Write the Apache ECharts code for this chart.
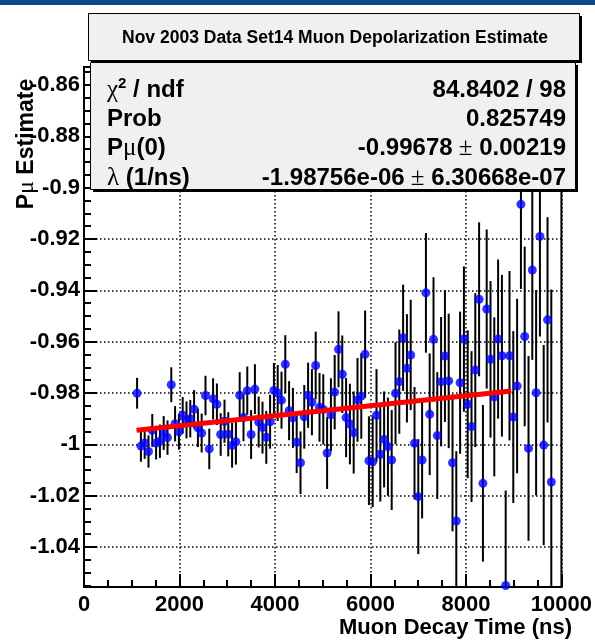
<!DOCTYPE html>
<html>
<head>
<meta charset="utf-8">
<script src="https://cdn.jsdelivr.net/npm/echarts@6/dist/echarts.min.js"></script>
<style>
html,body{margin:0;padding:0;background:#fff;}
#chart{width:595px;height:642px;}
</style>
</head>
<body>
<div id="chart"></div>
<script>
// ---- data ----
var times = [1112,1192,1271,1351,1430,1510,1590,1669,1749,1828,
  1908,1988,2067,2147,2226,2306,2386,2465,2545,2624,
  2704,2784,2863,2943,3022,3102,3182,3261,3341,3420,
  3500,3580,3659,3739,3818,3898,3978,4057,4137,4216,
  4296,4376,4455,4535,4614,4694,4774,4853,4933,5012,
  5092,5172,5251,5331,5410,5490,5570,5649,5729,5808,
  5888,5968,6047,6127,6206,6286,6366,6445,6525,6604,
  6684,6764,6843,6923,7002,7082,7162,7241,7321,7400,
  7480,7560,7639,7719,7798,7878,7958,8037,8117,8196,
  8276,8356,8435,8515,8594,8674,8754,8833,8913,8992,
  9072,9152,9231,9311,9390,9470,9550,9629,9709,9788];
var polarization = [-0.9801,-1.0007,-0.9995,-1.0028,-0.9946,-0.9995,-0.9988,-0.9956,-0.9974,-0.9768,
  -0.9920,-0.9951,-0.9887,-0.9905,-0.9900,-0.9863,-0.9936,-0.9956,-0.9810,-1.0018,
  -0.9823,-0.9844,-0.9962,-0.9910,-0.9961,-1.0004,-0.9990,-0.9809,-0.9896,-0.9791,
  -0.9962,-0.9785,-0.9913,-0.9935,-0.9973,-0.9912,-0.9790,-0.9800,-0.9828,-0.9688,
  -0.9869,-0.9897,-0.9992,-1.0072,-0.9893,-0.9809,-0.9836,-0.9693,-0.9856,-0.9864,
  -1.0034,-0.9885,-0.9797,-0.9630,-0.9727,-0.9896,-0.9921,-0.9954,-0.9827,-0.9812,
  -0.9649,-1.0064,-1.0068,-0.9887,-1.0039,-0.9981,-1.0009,-1.0061,-0.9801,-0.9756,
  -0.9585,-0.9704,-0.9652,-0.9996,-1.0204,-1.0061,-0.9410,-0.9883,-0.9591,-0.9966,
  -0.9756,-0.9656,-0.9753,-1.0072,-1.0299,-0.9760,-0.9590,-0.9844,-0.9931,-0.9711,
  -0.9435,-1.0152,-0.9473,-0.9669,-0.9815,-0.9590,-0.9655,-1.0550,-0.9655,-0.9894,
  -0.9773,-0.9065,-0.9580,-1.0016,-0.9321,-0.9799,-0.9190,-1.0003,-0.9515,-1.0147];
var errors = [0.0060,0.0061,0.0062,0.0063,0.0064,0.0064,0.0065,0.0066,0.0067,0.0068,
  0.0069,0.0070,0.0071,0.0072,0.0073,0.0074,0.0075,0.0076,0.0077,0.0079,
  0.0080,0.0081,0.0083,0.0084,0.0086,0.0087,0.0089,0.0090,0.0092,0.0094,
  0.0095,0.0097,0.0099,0.0101,0.0103,0.0105,0.0107,0.0109,0.0111,0.0113,
  0.0115,0.0117,0.0120,0.0122,0.0124,0.0127,0.0129,0.0132,0.0134,0.0137,
  0.0140,0.0142,0.0145,0.0148,0.0151,0.0154,0.0157,0.0160,0.0163,0.0166,
  0.0170,0.0173,0.0177,0.0180,0.0184,0.0187,0.0191,0.0195,0.0199,0.0203,
  0.0207,0.0211,0.0215,0.0219,0.0224,0.0228,0.0233,0.0237,0.0242,0.0247,
  0.0252,0.0257,0.0262,0.0267,0.0272,0.0277,0.0283,0.0288,0.0294,0.0300,
  0.0300,0.0305,0.0310,0.0305,0.0310,0.0310,0.0315,0.0370,0.0330,0.0335,
  0.0340,0.0330,0.0350,0.0360,0.0350,0.0400,0.0390,0.0390,0.0400,0.0750];
var fitTimes = [1100, 8950];
var fitValues = [-0.9945, -0.9792];
var yMajorTicks = [-1.04,-1.02,-1.0,-0.98,-0.96,-0.94,-0.92,-0.9,-0.88,-0.86];
var yMinorTicks = [-1.055,-1.05,-1.045,-1.035,-1.03,-1.025,-1.015,-1.01,-1.005,
  -0.995,-0.99,-0.985,-0.975,-0.97,-0.965,-0.955,-0.95,-0.945,-0.935,-0.93,-0.925,
  -0.915,-0.91,-0.905,-0.895,-0.89,-0.885,-0.875,-0.87,-0.865,-0.855];
var titleText = 'Nov 2003 Data Set14 Muon Depolarization Estimate';
var xTitle = 'Muon Decay Time (ns)';
var statLeft = ['{g|\u03c7}{sup|2}{b| / ndf}', '{b|Prob}', '{b|P}{g|\u03bc}{b|(0)}', '{g|\u03bb}{b| (1/ns)}'];
var statRight = ['{b|84.8402 / 98}', '{b|0.825749}', '{b|-0.99678}{g| \u00b1}{b| 0.00219}', '{b|-1.98756e-06}{g| \u00b1}{b| 6.30668e-07}'];

// ---- chart ----
var FONT = '"Liberation Sans", Arial, Helvetica, sans-serif';
var SERIF = '"Liberation Serif", "DejaVu Serif", serif';
var richStat = {
  b: {fontFamily: FONT, fontWeight: 'bold', fontSize: 24, fill: '#000', color: '#000'},
  g: {fontFamily: SERIF, fontWeight: 'normal', fontSize: 25, fill: '#000', color: '#000'},
  sup: {fontFamily: FONT, fontWeight: 'bold', fontSize: 15, color: '#000', verticalAlign: 'top', padding: [0,0,12,0]}
};

var pts = times.map(function (t, i) { return [t, polarization[i]]; });
var bars = times.map(function (t, i) { return [t, polarization[i], errors[i]]; });
var fit = fitTimes.map(function (t, i) { return [t, fitValues[i]]; });

var chart = echarts.init(document.getElementById('chart'), null, {renderer: 'canvas'});

var rowY = [90, 119, 148, 178];
var graphics = [
  {type: 'rect', shape: {x: 0, y: 0, width: 595, height: 5}, style: {fill: '#0f4a8a'}, z: 100},
  // title box with shadow
  {type: 'rect', shape: {x: 91, y: 16, width: 491, height: 47}, style: {fill: '#000'}, z: 100},
  {type: 'rect', shape: {x: 88.5, y: 13.5, width: 491, height: 47}, style: {fill: '#f0f0f0', stroke: '#000', lineWidth: 1}, z: 101},
  {type: 'text', x: 335, y: 38, style: {text: titleText, font: 'bold 17.5px ' + FONT, fill: '#000', align: 'center', verticalAlign: 'middle'}, z: 102},
  // stat box with shadow
  {type: 'rect', shape: {x: 93, y: 65, width: 485, height: 127}, style: {fill: '#000'}, z: 100},
  {type: 'rect', shape: {x: 90.5, y: 62.5, width: 485, height: 127}, style: {fill: '#f0f0f0', stroke: '#000', lineWidth: 1}, z: 101},
  // y axis title
  {type: 'text', x: 27, y: 144, rotation: Math.PI / 2,
   style: {text: '{b|P}{g|\u03bc}{b| Estimate}', align: 'center', verticalAlign: 'middle',
           rich: {b: {fontFamily: FONT, fontWeight: 'bold', fontSize: 23, fill: '#000'}, g: {fontFamily: SERIF, fontSize: 24, fill: '#000'}}}, z: 90},
  // x axis title
  {type: 'text', x: 572, y: 628, style: {text: xTitle, font: 'bold 22px ' + FONT, fill: '#000', align: 'right', verticalAlign: 'middle'}, z: 90}
];
for (var r = 0; r < 4; r++) {
  graphics.push({type: 'text', x: 107, y: rowY[r], style: {text: statLeft[r], rich: richStat, align: 'left', verticalAlign: 'middle'}, z: 102});
  graphics.push({type: 'text', x: 566, y: rowY[r], style: {text: statRight[r], rich: richStat, align: 'right', verticalAlign: 'middle'}, z: 102});
}

var dotted = {show: true, lineStyle: {color: '#000', width: 1.5, type: [1.5, 2.5]}};

chart.setOption({
  animation: false,
  backgroundColor: '#fff',
  grid: {left: 84, right: 33, top: 67, bottom: 55, show: true, borderColor: '#000', borderWidth: 2, backgroundColor: '#fff'},
  xAxis: {
    type: 'value', min: 0, max: 10000, interval: 2000,
    axisLine: {show: true, onZero: false, lineStyle: {color: '#000', width: 2}},
    axisTick: {show: true, inside: true, length: 13, lineStyle: {color: '#000', width: 2}},
    minorTick: {show: true, splitNumber: 4, length: 7, lineStyle: {color: '#000', width: 2}},
    axisLabel: {show: true, margin: 7, color: '#000', fontFamily: FONT, fontWeight: 'bold', fontSize: 22, showMinLabel: true, showMaxLabel: true,
      formatter: function (v) { return String(v); }},
    splitLine: dotted
  },
  yAxis: [{
    type: 'value', min: -1.0556, max: -0.853,
    axisLine: {show: true, onZero: false, lineStyle: {color: '#000', width: 2}},
    axisTick: {show: true, inside: true, length: 13, customValues: yMajorTicks, lineStyle: {color: '#000', width: 2}},
    axisLabel: {show: true, margin: 4, customValues: yMajorTicks, color: '#000', fontFamily: FONT, fontWeight: 'bold', fontSize: 22,
      formatter: function (v) { return String(Math.round(v * 100) / 100); }},
    splitLine: dotted
  }, {
    type: 'value', min: -1.0556, max: -0.853, position: 'left', offset: 0,
    axisLine: {show: false},
    axisTick: {show: true, inside: true, length: 7, customValues: yMinorTicks, lineStyle: {color: '#000', width: 2}},
    axisLabel: {show: false},
    splitLine: {show: false}
  }],
  series: [{
    type: 'custom', name: 'errors', data: bars, z: 3, silent: true,
    renderItem: function (params, api) {
      var cs = params.coordSys;
      var x = api.value(0), y = api.value(1), e = api.value(2);
      var p1 = api.coord([x, y - e]), p2 = api.coord([x, y + e]);
      var top = cs.y, bot = cs.y + cs.height;
      var y1 = Math.min(Math.max(p1[1], top), bot);
      var y2 = Math.min(Math.max(p2[1], top), bot);
      return {type: 'line', shape: {x1: p1[0], y1: y1, x2: p2[0], y2: y2}, style: {stroke: '#000', lineWidth: 2}};
    }
  }, {
    type: 'scatter', data: pts, symbol: 'circle', symbolSize: 9, z: 4, silent: true,
    itemStyle: {color: '#0000ff'}
  }, {
    type: 'line', data: fit, symbol: 'none', z: 5, silent: true,
    lineStyle: {color: '#ff0000', width: 5}
  }],
  graphic: graphics
});
</script>
</body>
</html>
